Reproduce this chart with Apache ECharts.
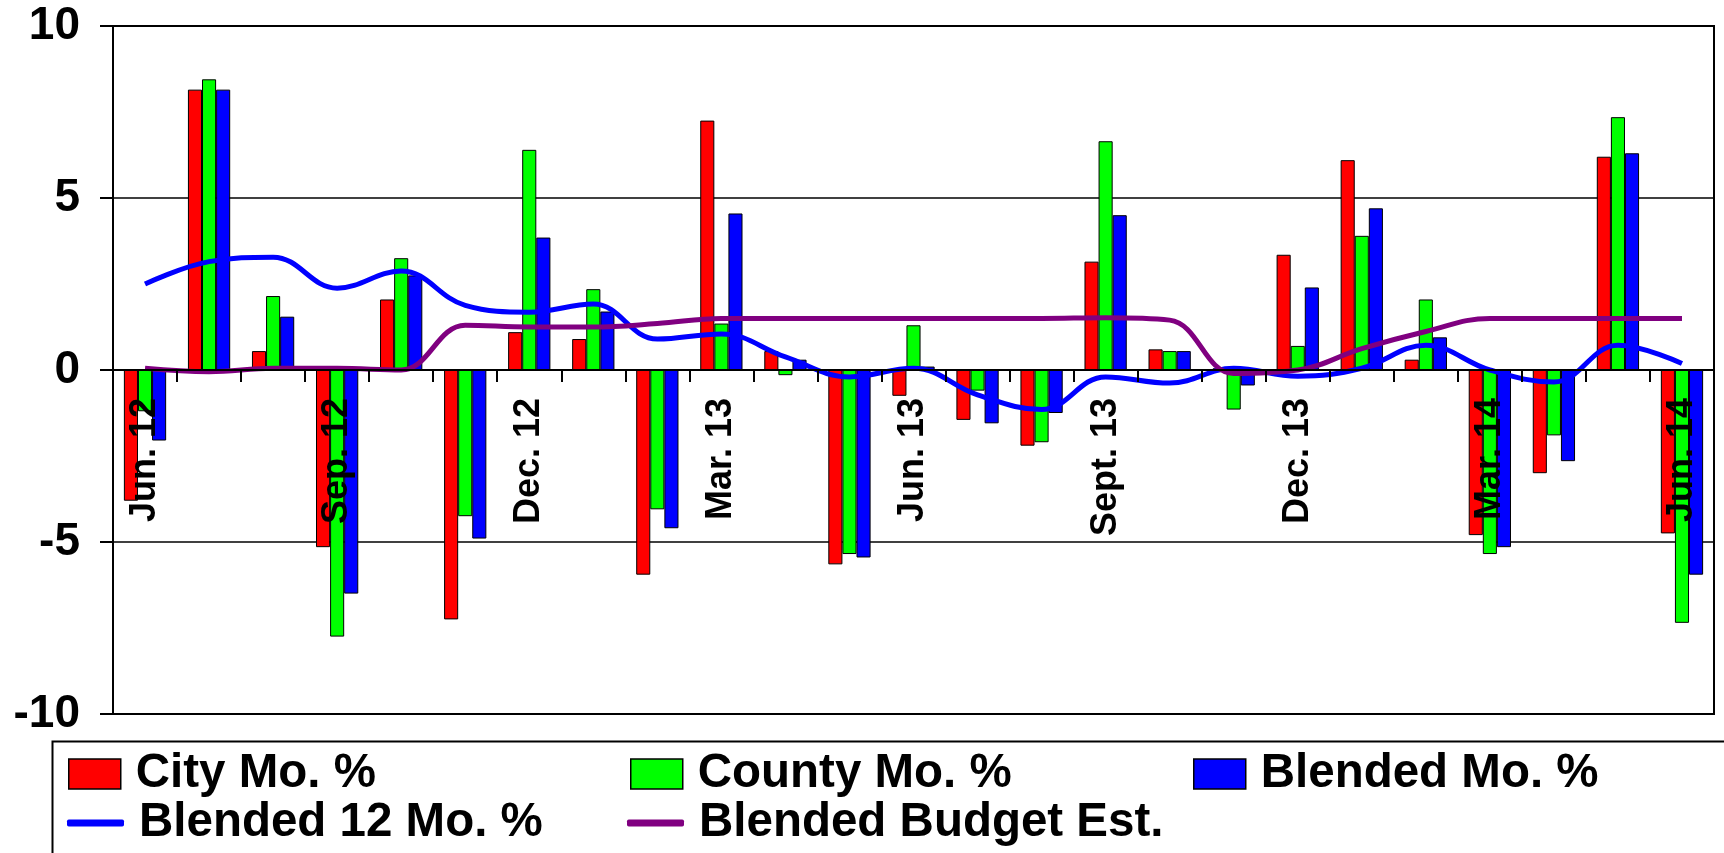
<!DOCTYPE html>
<html>
<head>
<meta charset="utf-8">
<script src="https://cdn.jsdelivr.net/npm/echarts@6/dist/echarts.min.js"></script>
<style>
html,body{margin:0;padding:0;background:#fff;}
#chart{width:1724px;height:853px;}
</style>
</head>
<body>
<div id="chart"></div>
<script>
const months = ['Jun. 12','Jul. 12','Aug. 12','Sep. 12','Oct. 12','Nov. 12','Dec. 12','Jan. 13','Feb. 13','Mar. 13','Apr. 13','May 13','Jun. 13','Jul. 13','Aug. 13','Sept. 13','Oct. 13','Nov. 13','Dec. 13','Jan. 14','Feb. 14','Mar. 14','Apr. 14','May 14','Jun. 14'];
const cityMo = [-3.8, 8.15, 0.55, -5.15, 2.05, -7.25, 1.1, 0.9, -5.95, 7.25, 0.55, -5.65, -0.75, -1.45, -2.2, 3.15, 0.6, 0.05, 3.35, 6.1, 0.3, -4.8, -3.0, 6.2, -4.75];
const countyMo = [-1.2, 8.45, 2.15, -7.75, 3.25, -4.25, 6.4, 2.35, -4.05, 1.35, -0.15, -5.35, 1.3, -0.6, -2.1, 6.65, 0.55, -1.15, 0.7, 3.9, 2.05, -5.35, -1.9, 7.35, -7.35];
const blendedMo = [-2.05, 8.15, 1.55, -6.5, 2.75, -4.9, 3.85, 1.7, -4.6, 4.55, 0.3, -5.45, 0.1, -1.55, -1.25, 4.5, 0.55, -0.45, 2.4, 4.7, 0.95, -5.15, -2.65, 6.3, -5.95];
const blended12Mo = [2.5, 3.15, 3.28, 2.38, 2.88, 1.88, 1.68, 1.92, 0.9, 1.05, 0.38, -0.2, 0.05, -0.72, -1.15, -0.2, -0.38, 0.05, -0.18, 0.05, 0.72, 0.0, -0.35, 0.72, 0.19];
const budgetEst = [0.05, -0.05, 0.05, 0.05, 0.0, 1.3, 1.25, 1.25, 1.35, 1.5, 1.5, 1.5, 1.5, 1.5, 1.5, 1.52, 1.45, -0.1, 0.0, 0.62, 1.12, 1.5, 1.5, 1.5, 1.5];
const yTicks = [-10, -5, 0, 5, 10];

const FONT = 'Arial, "Liberation Sans", sans-serif';
const chart = echarts.init(document.getElementById('chart'), null, {renderer: 'canvas'});

const GRID = {left: 113, right: 10, top: 26, bottom: 139};
const plotH = 853 - GRID.top - GRID.bottom;
const zeroOffset = plotH * (0 - yTicks[0]) / (yTicks[yTicks.length - 1] - yTicks[0]);

function legendFor(name, left, top, opts) {
  return Object.assign({
    data: [name],
    left: left, top: top,
    padding: 0,
    icon: 'rect',
    itemWidth: 52, itemHeight: 30,
    selectedMode: false,
    textStyle: {fontFamily: FONT, fontWeight: 'bold', fontSize: 47.5, color: '#000', padding: [0, 0, 0, 10]},
    itemStyle: {borderColor: '#000', borderWidth: 1.5}
  }, opts || {});
}

const barStyle = c => ({color: c, borderColor: '#000', borderWidth: 1});

chart.setOption({
  animation: false,
  backgroundColor: '#fff',
  grid: Object.assign({show: true, borderColor: '#000', borderWidth: 2, backgroundColor: 'transparent'}, GRID),
  graphic: [{
    type: 'rect', left: 50, top: 739, z: -1,
    shape: {x: 0, y: 0, width: 1700, height: 140},
    style: {fill: 'none', stroke: '#000', lineWidth: 2}
  }],
  legend: [
    legendFor('City Mo. %', 68, 750),
    legendFor('County Mo. %', 630, 750),
    legendFor('Blended Mo. %', 1193, 750),
    legendFor('Blended 12 Mo. %', 67, 799, {itemWidth: 57, itemHeight: 7, icon: 'roundRect', itemStyle: {borderWidth: 0}}),
    legendFor('Blended Budget Est.', 627, 799, {itemWidth: 57, itemHeight: 7, icon: 'roundRect', itemStyle: {borderWidth: 0}})
  ],
  xAxis: {
    type: 'category',
    data: months,
    z: 10,
    position: 'bottom',
    offset: -zeroOffset,
    boundaryGap: true,
    axisLine: {onZero: false, lineStyle: {color: '#000', width: 2}},
    axisTick: {show: true, interval: 0, length: 12, inside: false, lineStyle: {color: '#000', width: 2}},
    axisLabel: {interval: 2, rotate: 90, margin: 28, fontFamily: FONT, fontWeight: 'bold', fontSize: 36, color: '#000'},
    splitLine: {show: false}
  },
  yAxis: {
    type: 'value',
    min: yTicks[0], max: yTicks[yTicks.length - 1], interval: 5,
    axisLine: {show: true, lineStyle: {color: '#000', width: 2}},
    axisTick: {show: true, length: 13, lineStyle: {color: '#000', width: 2}},
    axisLabel: {margin: 33, fontFamily: FONT, fontWeight: 'bold', fontSize: 46, color: '#000'},
    splitLine: {show: true, lineStyle: {color: '#000', width: 1.5}}
  },
  series: [
    {name: 'City Mo. %', type: 'bar', data: cityMo, barGap: '0%', barCategoryGap: '34%', itemStyle: barStyle('#FF0000')},
    {name: 'County Mo. %', type: 'bar', data: countyMo, barGap: '0%', barCategoryGap: '34%', itemStyle: barStyle('#00FF00')},
    {name: 'Blended Mo. %', type: 'bar', data: blendedMo, barGap: '0%', barCategoryGap: '34%', itemStyle: barStyle('#0000FF')},
    {name: 'Blended 12 Mo. %', type: 'line', data: blended12Mo, smooth: 0.4, symbol: 'none', z: 5,
     itemStyle: {color: '#0000FF'}, lineStyle: {color: '#0000FF', width: 5}},
    {name: 'Blended Budget Est.', type: 'line', data: budgetEst, smooth: 0.4, symbol: 'none', z: 6,
     itemStyle: {color: '#800080'}, lineStyle: {color: '#800080', width: 5}}
  ]
});
</script>
</body>
</html>
